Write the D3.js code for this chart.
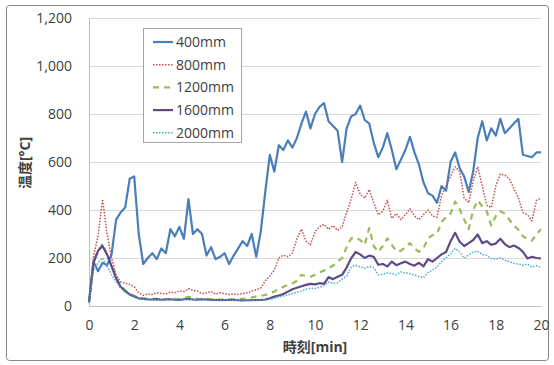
<!DOCTYPE html>
<html>
<head>
<meta charset="utf-8">
<script src="https://cdn.jsdelivr.net/npm/d3@7"></script>
<style>
  body { margin: 0; background: #fff; }
  text { font-family: "Open Sans", "Noto Sans CJK JP", sans-serif; }
</style>
</head>
<body>
<div id="chart"></div>
<script>
// time axis: one reading every 0.2 min
var minutes = d3.range(101).map(function (i) { return i / 5; });

var seriesNames = ["400mm", "800mm", "1200mm", "1600mm", "2000mm"];

var temp400 = [15, 185, 145, 180, 170, 215,
  360, 390, 410, 530, 540,
  300, 175, 200, 220, 195,
  240, 220, 320, 290, 330,
  280, 445, 300, 320, 300,
  210, 245, 195, 205, 220,
  175, 210, 240, 270, 250,
  300, 205, 310, 476, 630,
  560, 670, 650, 690, 660,
  700, 760, 810, 740, 800,
  830, 845, 770, 750, 730,
  600, 740, 790, 800, 835,
  775, 760, 680, 620, 660,
  720, 650, 570, 610, 650,
  705, 640, 590, 515, 470,
  460, 430, 500, 480, 600,
  640, 575, 540, 475, 560,
  700, 770, 690, 740, 710,
  780, 720, 740, 760, 780,
  630, 625, 620, 640, 640];

var temp800 = [15, 210, 290, 445, 300, 200,
  130, 100, 95, 90, 80,
  55, 45, 50, 48, 55,
  52, 50, 58, 55, 62,
  60, 72, 65, 62, 52,
  55, 60, 50, 55, 52,
  48, 50, 48, 52, 55,
  62, 68, 75, 105, 125,
  150, 200, 212, 205, 220,
  280, 320, 270, 255, 310,
  330, 340, 320, 335, 315,
  330, 390, 445, 515, 465,
  450, 485, 430, 380, 395,
  440, 365, 385, 360, 380,
  405, 375, 360, 380, 400,
  375, 370, 460, 500, 540,
  580, 560, 450, 430, 520,
  580, 500, 420, 410, 500,
  550, 545, 530, 490, 450,
  390, 380, 355, 440, 450];

var temp1200 = [15, 190, 225, 260, 210, 170,
  120, 85, 65, 50, 42,
  35, 32, 30, 31, 29,
  30, 28, 31, 30, 29,
  32, 38, 34, 30, 29,
  30, 28, 29, 27, 28,
  27, 29, 28, 30, 32,
  35, 40, 42, 46, 52,
  60, 72, 80, 88, 94,
  105, 130, 125, 122, 130,
  140, 148, 157, 168, 185,
  200, 245, 282, 285, 275,
  255, 325, 250, 225, 250,
  282, 255, 228, 230, 245,
  262, 240, 226, 240, 282,
  295, 300, 350, 370, 385,
  435, 405, 360, 320, 400,
  440, 415, 395, 335, 375,
  395, 385, 360, 335, 318,
  290, 280, 272, 300, 320];

var temp1600 = [15, 180, 230, 250, 215, 165,
  115, 80, 62, 48, 40,
  32, 30, 28, 27, 29,
  26, 27, 28, 26, 25,
  28, 30, 27, 26, 28,
  27, 25, 26, 24, 25,
  26, 25, 24, 23, 24,
  24, 25, 25, 27, 32,
  39, 44, 50, 60, 70,
  76, 82, 88, 92, 90,
  95, 92, 120, 112, 122,
  130, 160, 199, 225, 215,
  200, 210, 205, 172, 175,
  165, 185, 170, 178, 185,
  175, 168, 180, 165, 195,
  185, 200, 215, 225, 270,
  305, 268, 250, 262, 275,
  298, 262, 270, 255, 260,
  280, 258, 245, 252, 242,
  226, 198, 205, 200, 198];

var temp2000 = [15, 150, 180, 200, 165, 130,
  100, 75, 58, 45, 38,
  30, 28, 27, 28, 26,
  27, 26, 28, 27, 25,
  27, 29, 27, 26, 27,
  26, 25, 26, 24, 25,
  25, 24, 24, 23, 24,
  24, 23, 24, 26, 28,
  32, 38, 42, 46, 52,
  58, 62, 70, 74, 73,
  78, 85, 100, 95, 97,
  112, 125, 162, 170, 163,
  158, 165, 160, 130, 132,
  138, 135, 130, 142, 138,
  135, 130, 122, 118, 140,
  150, 162, 185, 200, 218,
  240, 225, 200, 212, 225,
  228, 215, 210, 198, 195,
  200, 190, 185, 178, 175,
  170, 175, 162, 168, 160];

var xTicks = [0, 2, 4, 6, 8, 10, 12, 14, 16, 18, 20];
var yTicks = [0, 200, 400, 600, 800, 1000, 1200];

var allSeries = [temp400, temp800, temp1200, temp1600, temp2000];
var colors = ["#4a7ebb", "#c0504d", "#9bbb59", "#5e4a87", "#4bacc6"];
var dashes = [null, "1.5,1.5", "6,5", null, "1.5,1.5"];
var widths = [2.2, 1.5, 2.2, 2.2, 1.5];

var chartW = 554, chartH = 365;
var plotLeft = 89, plotRight = 541, plotTop = 18, plotBottom = 306;

var svg = d3.select("#chart").append("svg")
    .attr("width", chartW)
    .attr("height", chartH);

//outer frame
svg.append("rect")
    .attr("x", 6.5).attr("y", 5.5)
    .attr("width", 542).attr("height", 355)
    .attr("rx", 3)
    .attr("fill", "#fff")
    .attr("stroke", "#868686");

var x = d3.scaleLinear().domain([0, 20]).range([plotLeft, plotRight]);
var y = d3.scaleLinear().domain([0, 1200]).range([plotBottom, plotTop]);

//y axis with gridlines
var yAxis = svg.append("g")
    .attr("transform", "translate(" + plotLeft + ",0)")
    .call(d3.axisLeft(y).tickValues(yTicks).tickSize(-(plotRight - plotLeft)).tickPadding(17).tickFormat(d3.format(",")));
yAxis.select(".domain").remove();
yAxis.selectAll("line").attr("stroke", "#d9d9d9");
yAxis.selectAll("text").attr("fill", "#404040").style("font-size", "14px");

//x axis
var xAxis = svg.append("g")
    .attr("transform", "translate(0," + plotBottom + ")")
    .call(d3.axisBottom(x).tickValues(xTicks).tickSize(0).tickPadding(14));
xAxis.select(".domain").attr("stroke", "#bfbfbf");
xAxis.selectAll("text").attr("fill", "#404040").style("font-size", "14px");

//left axis line
svg.append("line")
    .attr("x1", plotLeft + 0.5).attr("x2", plotLeft + 0.5)
    .attr("y1", plotTop).attr("y2", plotBottom)
    .attr("stroke", "#bfbfbf");

//axis titles
svg.append("text")
    .attr("x", (plotLeft + plotRight) / 2)
    .attr("y", 352)
    .attr("text-anchor", "middle")
    .attr("fill", "#404040")
    .style("font-size", "14px")
    .style("font-weight", "bold")
    .text("時刻[min]");

svg.append("text")
    .attr("transform", "translate(30,163) rotate(-90)")
    .attr("text-anchor", "middle")
    .attr("fill", "#404040")
    .style("font-size", "14px")
    .style("font-weight", "bold")
    .text("温度[°C]");

//lines
var line = d3.line()
    .x(function (d, i) { return x(minutes[i]); })
    .y(function (d) { return y(d); });

allSeries.forEach(function (s, k) {
    svg.append("path")
        .datum(s)
        .attr("fill", "none")
        .attr("stroke", colors[k])
        .attr("stroke-width", widths[k])
        .attr("stroke-dasharray", dashes[k])
        .attr("stroke-linejoin", "round")
        .attr("d", line);
});

//legend
var legend = svg.append("g");
legend.append("rect")
    .attr("x", 143.5).attr("y", 28.5)
    .attr("width", 98).attr("height", 114)
    .attr("fill", "#fff")
    .attr("stroke", "#a6a6a6");

seriesNames.forEach(function (name, k) {
    var ly = 42 + k * 22.7;
    legend.append("line")
        .attr("x1", 153).attr("x2", 173)
        .attr("y1", ly).attr("y2", ly)
        .attr("stroke", colors[k])
        .attr("stroke-width", widths[k])
        .attr("stroke-dasharray", dashes[k]);
    legend.append("text")
        .attr("x", 176).attr("y", ly)
        .attr("dy", "0.35em")
        .attr("fill", "#404040")
        .style("font-size", "14px")
        .text(name);
});
</script>
</body>
</html>
